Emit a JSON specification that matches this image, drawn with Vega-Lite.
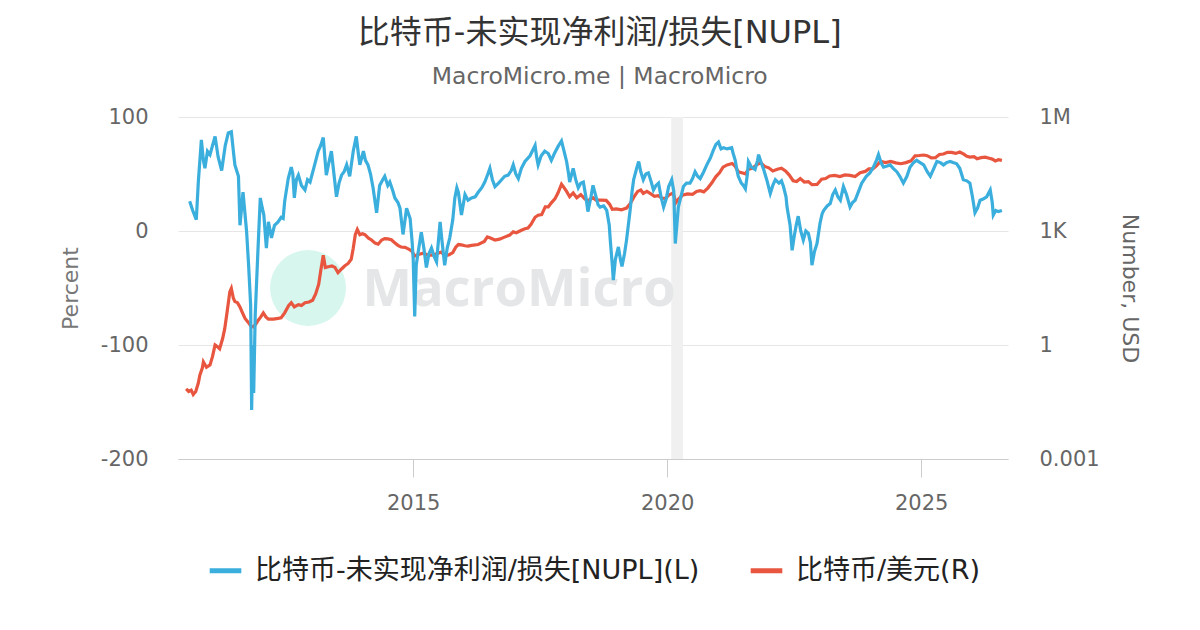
{
  "$schema": "https://vega.github.io/schema/vega-lite/v6.json",
  "width": 830,
  "height": 342,
  "autosize": {"type": "none"},
  "padding": {"left": 178, "top": 117, "right": 192, "bottom": 171},
  "background": "white",
  "title": {
    "text": "比特币-未实现净利润/损失[NUPL]",
    "subtitle": "MacroMicro.me | MacroMicro",
    "anchor": "middle",
    "frame": "bounds",
    "font": "DejaVu Sans, Noto Sans CJK SC",
    "fontSize": 32,
    "fontWeight": "normal",
    "color": "#333333",
    "subtitleFont": "DejaVu Sans",
    "subtitleFontSize": 23.5,
    "subtitleColor": "#666666",
    "subtitlePadding": 15,
    "offset": 17
  },
  "config": {
    "view": {"stroke": null},
    "axis": {"labelFont": "DejaVu Sans", "labelFontSize": 21, "labelColor": "#666666", "titleFont": "DejaVu Sans", "titleFontWeight": "normal"},
    "legend": {"layout": {"bottom": {"anchor": "middle"}}}
  },
  "datasets": {
    "nupl": [
      {"t": 2010.60, "v": 26}, {"t": 2010.66, "v": 18}, {"t": 2010.73, "v": 10}, {"t": 2010.77, "v": 43}, {"t": 2010.83, "v": 80},
      {"t": 2010.87, "v": 62}, {"t": 2010.90, "v": 55}, {"t": 2010.95, "v": 70}, {"t": 2011.00, "v": 67}, {"t": 2011.05, "v": 75},
      {"t": 2011.10, "v": 83}, {"t": 2011.16, "v": 65}, {"t": 2011.23, "v": 53}, {"t": 2011.30, "v": 75}, {"t": 2011.36, "v": 86},
      {"t": 2011.42, "v": 87}, {"t": 2011.46, "v": 70}, {"t": 2011.49, "v": 58}, {"t": 2011.56, "v": 48}, {"t": 2011.59, "v": 5},
      {"t": 2011.65, "v": 34}, {"t": 2011.72, "v": 0}, {"t": 2011.76, "v": -30}, {"t": 2011.80, "v": -65}, {"t": 2011.82, "v": -157},
      {"t": 2011.84, "v": -100}, {"t": 2011.86, "v": -142}, {"t": 2011.89, "v": -74}, {"t": 2011.94, "v": -21}, {"t": 2011.99, "v": 29},
      {"t": 2012.03, "v": 20}, {"t": 2012.06, "v": 14}, {"t": 2012.11, "v": -15}, {"t": 2012.15, "v": 8}, {"t": 2012.21, "v": -6},
      {"t": 2012.27, "v": 5}, {"t": 2012.34, "v": 8}, {"t": 2012.40, "v": 12}, {"t": 2012.44, "v": 11}, {"t": 2012.47, "v": 26},
      {"t": 2012.54, "v": 46}, {"t": 2012.60, "v": 56}, {"t": 2012.63, "v": 50}, {"t": 2012.66, "v": 29}, {"t": 2012.70, "v": 45},
      {"t": 2012.74, "v": 49}, {"t": 2012.80, "v": 40}, {"t": 2012.87, "v": 36}, {"t": 2012.92, "v": 45}, {"t": 2012.97, "v": 43},
      {"t": 2013.06, "v": 58}, {"t": 2013.13, "v": 70}, {"t": 2013.18, "v": 75}, {"t": 2013.23, "v": 82}, {"t": 2013.26, "v": 65},
      {"t": 2013.29, "v": 49}, {"t": 2013.34, "v": 60}, {"t": 2013.39, "v": 70}, {"t": 2013.44, "v": 50}, {"t": 2013.49, "v": 30},
      {"t": 2013.54, "v": 42}, {"t": 2013.59, "v": 49}, {"t": 2013.64, "v": 52}, {"t": 2013.69, "v": 58}, {"t": 2013.75, "v": 48},
      {"t": 2013.82, "v": 70}, {"t": 2013.88, "v": 83}, {"t": 2013.92, "v": 68}, {"t": 2013.95, "v": 58}, {"t": 2014.02, "v": 70},
      {"t": 2014.06, "v": 62}, {"t": 2014.11, "v": 58}, {"t": 2014.16, "v": 50}, {"t": 2014.21, "v": 38}, {"t": 2014.28, "v": 16},
      {"t": 2014.34, "v": 40}, {"t": 2014.40, "v": 45}, {"t": 2014.44, "v": 48}, {"t": 2014.50, "v": 40}, {"t": 2014.54, "v": 43},
      {"t": 2014.60, "v": 35}, {"t": 2014.64, "v": 29}, {"t": 2014.70, "v": 25}, {"t": 2014.74, "v": 20}, {"t": 2014.80, "v": -3},
      {"t": 2014.84, "v": 10}, {"t": 2014.87, "v": 20}, {"t": 2014.94, "v": 11}, {"t": 2014.98, "v": -10}, {"t": 2015.00, "v": -24},
      {"t": 2015.03, "v": -75}, {"t": 2015.06, "v": -30}, {"t": 2015.10, "v": -18}, {"t": 2015.16, "v": -1}, {"t": 2015.21, "v": -15},
      {"t": 2015.26, "v": -32}, {"t": 2015.31, "v": -20}, {"t": 2015.36, "v": -15}, {"t": 2015.41, "v": -22}, {"t": 2015.46, "v": -27},
      {"t": 2015.53, "v": 8}, {"t": 2015.57, "v": -10}, {"t": 2015.62, "v": -30}, {"t": 2015.67, "v": -15}, {"t": 2015.72, "v": -6},
      {"t": 2015.78, "v": 10}, {"t": 2015.82, "v": 29}, {"t": 2015.86, "v": 38}, {"t": 2015.89, "v": 34}, {"t": 2015.95, "v": 14},
      {"t": 2016.02, "v": 32}, {"t": 2016.08, "v": 27}, {"t": 2016.15, "v": 29}, {"t": 2016.22, "v": 30}, {"t": 2016.28, "v": 34},
      {"t": 2016.35, "v": 38}, {"t": 2016.41, "v": 43}, {"t": 2016.47, "v": 50}, {"t": 2016.51, "v": 55}, {"t": 2016.56, "v": 45},
      {"t": 2016.61, "v": 39}, {"t": 2016.68, "v": 42}, {"t": 2016.74, "v": 45}, {"t": 2016.80, "v": 48}, {"t": 2016.87, "v": 49},
      {"t": 2016.93, "v": 53}, {"t": 2016.97, "v": 58}, {"t": 2017.02, "v": 50}, {"t": 2017.07, "v": 46}, {"t": 2017.13, "v": 55},
      {"t": 2017.20, "v": 61}, {"t": 2017.30, "v": 66}, {"t": 2017.40, "v": 75}, {"t": 2017.43, "v": 65}, {"t": 2017.46, "v": 58},
      {"t": 2017.52, "v": 66}, {"t": 2017.59, "v": 70}, {"t": 2017.66, "v": 68}, {"t": 2017.72, "v": 62}, {"t": 2017.78, "v": 68},
      {"t": 2017.85, "v": 74}, {"t": 2017.92, "v": 79}, {"t": 2017.97, "v": 70}, {"t": 2018.02, "v": 61}, {"t": 2018.06, "v": 50},
      {"t": 2018.08, "v": 43}, {"t": 2018.15, "v": 55}, {"t": 2018.20, "v": 45}, {"t": 2018.25, "v": 38}, {"t": 2018.30, "v": 42},
      {"t": 2018.35, "v": 43}, {"t": 2018.40, "v": 30}, {"t": 2018.44, "v": 17}, {"t": 2018.50, "v": 30}, {"t": 2018.54, "v": 40},
      {"t": 2018.60, "v": 30}, {"t": 2018.64, "v": 23}, {"t": 2018.68, "v": 21}, {"t": 2018.75, "v": 22}, {"t": 2018.81, "v": 18},
      {"t": 2018.86, "v": 5}, {"t": 2018.88, "v": -8}, {"t": 2018.92, "v": -30}, {"t": 2018.94, "v": -43}, {"t": 2018.98, "v": -25},
      {"t": 2019.04, "v": -14}, {"t": 2019.08, "v": -25}, {"t": 2019.11, "v": -31}, {"t": 2019.16, "v": -20}, {"t": 2019.20, "v": -8},
      {"t": 2019.27, "v": 18}, {"t": 2019.31, "v": 35}, {"t": 2019.34, "v": 45}, {"t": 2019.40, "v": 55}, {"t": 2019.44, "v": 61},
      {"t": 2019.48, "v": 52}, {"t": 2019.53, "v": 45}, {"t": 2019.58, "v": 50}, {"t": 2019.63, "v": 51}, {"t": 2019.68, "v": 44},
      {"t": 2019.73, "v": 36}, {"t": 2019.78, "v": 40}, {"t": 2019.83, "v": 42}, {"t": 2019.88, "v": 30}, {"t": 2019.93, "v": 21},
      {"t": 2019.98, "v": 28}, {"t": 2020.03, "v": 39}, {"t": 2020.09, "v": 45}, {"t": 2020.13, "v": 35}, {"t": 2020.16, "v": -11},
      {"t": 2020.19, "v": 5}, {"t": 2020.22, "v": 21}, {"t": 2020.27, "v": 30}, {"t": 2020.32, "v": 39}, {"t": 2020.38, "v": 42},
      {"t": 2020.45, "v": 42}, {"t": 2020.50, "v": 46}, {"t": 2020.55, "v": 52}, {"t": 2020.60, "v": 48}, {"t": 2020.65, "v": 46},
      {"t": 2020.72, "v": 52}, {"t": 2020.78, "v": 58}, {"t": 2020.85, "v": 64}, {"t": 2020.91, "v": 71}, {"t": 2020.96, "v": 76},
      {"t": 2021.01, "v": 78}, {"t": 2021.06, "v": 72}, {"t": 2021.11, "v": 73}, {"t": 2021.18, "v": 72}, {"t": 2021.27, "v": 73},
      {"t": 2021.30, "v": 68}, {"t": 2021.34, "v": 62}, {"t": 2021.38, "v": 52}, {"t": 2021.40, "v": 48}, {"t": 2021.46, "v": 42},
      {"t": 2021.50, "v": 40}, {"t": 2021.54, "v": 37}, {"t": 2021.58, "v": 50}, {"t": 2021.60, "v": 61}, {"t": 2021.66, "v": 56},
      {"t": 2021.73, "v": 54}, {"t": 2021.78, "v": 62}, {"t": 2021.80, "v": 67}, {"t": 2021.85, "v": 60}, {"t": 2021.90, "v": 54},
      {"t": 2021.96, "v": 45}, {"t": 2022.03, "v": 33}, {"t": 2022.08, "v": 40}, {"t": 2022.13, "v": 45}, {"t": 2022.20, "v": 42},
      {"t": 2022.25, "v": 44}, {"t": 2022.29, "v": 39}, {"t": 2022.34, "v": 30}, {"t": 2022.36, "v": 21}, {"t": 2022.42, "v": 5},
      {"t": 2022.46, "v": -17}, {"t": 2022.50, "v": -5}, {"t": 2022.54, "v": 5}, {"t": 2022.58, "v": 13}, {"t": 2022.63, "v": 0},
      {"t": 2022.68, "v": -8}, {"t": 2022.73, "v": 0}, {"t": 2022.78, "v": -2}, {"t": 2022.82, "v": -10}, {"t": 2022.85, "v": -30},
      {"t": 2022.90, "v": -18}, {"t": 2022.95, "v": -11}, {"t": 2023.01, "v": 7}, {"t": 2023.05, "v": 15}, {"t": 2023.08, "v": 18},
      {"t": 2023.15, "v": 22}, {"t": 2023.21, "v": 24}, {"t": 2023.26, "v": 32}, {"t": 2023.31, "v": 36}, {"t": 2023.36, "v": 30},
      {"t": 2023.41, "v": 27}, {"t": 2023.47, "v": 39}, {"t": 2023.53, "v": 32}, {"t": 2023.60, "v": 21}, {"t": 2023.65, "v": 25},
      {"t": 2023.70, "v": 27}, {"t": 2023.77, "v": 35}, {"t": 2023.83, "v": 42}, {"t": 2023.92, "v": 48}, {"t": 2023.99, "v": 51},
      {"t": 2024.06, "v": 56}, {"t": 2024.12, "v": 62}, {"t": 2024.16, "v": 67}, {"t": 2024.21, "v": 60}, {"t": 2024.26, "v": 56},
      {"t": 2024.33, "v": 57}, {"t": 2024.39, "v": 58}, {"t": 2024.45, "v": 55}, {"t": 2024.52, "v": 52}, {"t": 2024.58, "v": 48},
      {"t": 2024.65, "v": 42}, {"t": 2024.72, "v": 48}, {"t": 2024.78, "v": 56}, {"t": 2024.85, "v": 60}, {"t": 2024.91, "v": 62},
      {"t": 2024.98, "v": 60}, {"t": 2025.05, "v": 58}, {"t": 2025.12, "v": 52}, {"t": 2025.18, "v": 48}, {"t": 2025.25, "v": 55},
      {"t": 2025.31, "v": 61}, {"t": 2025.38, "v": 60}, {"t": 2025.44, "v": 58}, {"t": 2025.50, "v": 60}, {"t": 2025.57, "v": 61},
      {"t": 2025.63, "v": 60}, {"t": 2025.70, "v": 59}, {"t": 2025.76, "v": 55}, {"t": 2025.83, "v": 45}, {"t": 2025.90, "v": 44},
      {"t": 2025.96, "v": 42}, {"t": 2026.01, "v": 30}, {"t": 2026.06, "v": 16}, {"t": 2026.11, "v": 20}, {"t": 2026.16, "v": 27},
      {"t": 2026.22, "v": 28}, {"t": 2026.29, "v": 30}, {"t": 2026.36, "v": 36}, {"t": 2026.40, "v": 25}, {"t": 2026.42, "v": 14},
      {"t": 2026.47, "v": 18}, {"t": 2026.52, "v": 17}, {"t": 2026.59, "v": 18}
    ],
    "btc": [
      {"t": 2010.53, "v": 0.07}, {"t": 2010.58, "v": 0.06}, {"t": 2010.63, "v": 0.065}, {"t": 2010.67, "v": 0.05}, {"t": 2010.72, "v": 0.06},
      {"t": 2010.77, "v": 0.1}, {"t": 2010.80, "v": 0.16}, {"t": 2010.85, "v": 0.25}, {"t": 2010.87, "v": 0.36}, {"t": 2010.93, "v": 0.26},
      {"t": 2011.00, "v": 0.3}, {"t": 2011.05, "v": 0.5}, {"t": 2011.10, "v": 1.0}, {"t": 2011.15, "v": 0.9}, {"t": 2011.19, "v": 0.8},
      {"t": 2011.25, "v": 1.5}, {"t": 2011.29, "v": 2.7}, {"t": 2011.34, "v": 8}, {"t": 2011.39, "v": 25}, {"t": 2011.42, "v": 31},
      {"t": 2011.46, "v": 17}, {"t": 2011.49, "v": 14}, {"t": 2011.54, "v": 13}, {"t": 2011.59, "v": 10}, {"t": 2011.64, "v": 7},
      {"t": 2011.69, "v": 5}, {"t": 2011.75, "v": 4}, {"t": 2011.80, "v": 3.2}, {"t": 2011.85, "v": 3.0}, {"t": 2011.90, "v": 3.5},
      {"t": 2011.95, "v": 4.5}, {"t": 2012.00, "v": 5.5}, {"t": 2012.05, "v": 7}, {"t": 2012.10, "v": 5.5}, {"t": 2012.15, "v": 4.8},
      {"t": 2012.25, "v": 4.8}, {"t": 2012.34, "v": 5.0}, {"t": 2012.40, "v": 5.2}, {"t": 2012.47, "v": 7}, {"t": 2012.55, "v": 11},
      {"t": 2012.60, "v": 13}, {"t": 2012.66, "v": 10}, {"t": 2012.74, "v": 11.5}, {"t": 2012.80, "v": 11}, {"t": 2012.87, "v": 13},
      {"t": 2012.95, "v": 13.5}, {"t": 2013.02, "v": 15}, {"t": 2013.08, "v": 22}, {"t": 2013.14, "v": 40}, {"t": 2013.18, "v": 90},
      {"t": 2013.23, "v": 230}, {"t": 2013.27, "v": 110}, {"t": 2013.33, "v": 115}, {"t": 2013.40, "v": 120}, {"t": 2013.46, "v": 110},
      {"t": 2013.52, "v": 80}, {"t": 2013.59, "v": 100}, {"t": 2013.65, "v": 120}, {"t": 2013.72, "v": 140}, {"t": 2013.78, "v": 180},
      {"t": 2013.82, "v": 350}, {"t": 2013.86, "v": 800}, {"t": 2013.90, "v": 1100}, {"t": 2013.95, "v": 800}, {"t": 2014.00, "v": 850},
      {"t": 2014.05, "v": 800}, {"t": 2014.12, "v": 650}, {"t": 2014.18, "v": 580}, {"t": 2014.25, "v": 480}, {"t": 2014.31, "v": 450},
      {"t": 2014.38, "v": 580}, {"t": 2014.44, "v": 630}, {"t": 2014.50, "v": 620}, {"t": 2014.57, "v": 590}, {"t": 2014.63, "v": 500},
      {"t": 2014.70, "v": 420}, {"t": 2014.76, "v": 380}, {"t": 2014.84, "v": 370}, {"t": 2014.92, "v": 330}, {"t": 2014.97, "v": 300},
      {"t": 2015.03, "v": 220}, {"t": 2015.10, "v": 240}, {"t": 2015.20, "v": 260}, {"t": 2015.30, "v": 230}, {"t": 2015.40, "v": 235},
      {"t": 2015.49, "v": 260}, {"t": 2015.55, "v": 280}, {"t": 2015.62, "v": 230}, {"t": 2015.70, "v": 235}, {"t": 2015.78, "v": 270},
      {"t": 2015.84, "v": 380}, {"t": 2015.89, "v": 440}, {"t": 2015.95, "v": 430}, {"t": 2016.02, "v": 410}, {"t": 2016.08, "v": 400},
      {"t": 2016.15, "v": 420}, {"t": 2016.28, "v": 440}, {"t": 2016.40, "v": 530}, {"t": 2016.46, "v": 700}, {"t": 2016.52, "v": 650},
      {"t": 2016.61, "v": 580}, {"t": 2016.70, "v": 610}, {"t": 2016.81, "v": 700}, {"t": 2016.90, "v": 780}, {"t": 2016.97, "v": 950},
      {"t": 2017.03, "v": 900}, {"t": 2017.13, "v": 1050}, {"t": 2017.20, "v": 1150}, {"t": 2017.26, "v": 1200}, {"t": 2017.32, "v": 1500},
      {"t": 2017.40, "v": 2300}, {"t": 2017.46, "v": 2600}, {"t": 2017.53, "v": 2700}, {"t": 2017.60, "v": 4300}, {"t": 2017.66, "v": 4300},
      {"t": 2017.72, "v": 5500}, {"t": 2017.79, "v": 7000}, {"t": 2017.85, "v": 10000}, {"t": 2017.92, "v": 17000}, {"t": 2017.96, "v": 14500},
      {"t": 2018.02, "v": 11000}, {"t": 2018.08, "v": 8000}, {"t": 2018.15, "v": 10000}, {"t": 2018.22, "v": 7500}, {"t": 2018.30, "v": 9000},
      {"t": 2018.38, "v": 7000}, {"t": 2018.44, "v": 6300}, {"t": 2018.54, "v": 7500}, {"t": 2018.60, "v": 6500}, {"t": 2018.70, "v": 6500},
      {"t": 2018.80, "v": 6400}, {"t": 2018.87, "v": 5000}, {"t": 2018.92, "v": 3700}, {"t": 2019.00, "v": 3800}, {"t": 2019.10, "v": 3600},
      {"t": 2019.20, "v": 4000}, {"t": 2019.27, "v": 5200}, {"t": 2019.35, "v": 8000}, {"t": 2019.42, "v": 11000}, {"t": 2019.48, "v": 12000},
      {"t": 2019.53, "v": 9800}, {"t": 2019.60, "v": 11000}, {"t": 2019.68, "v": 9500}, {"t": 2019.75, "v": 8200}, {"t": 2019.82, "v": 8500},
      {"t": 2019.90, "v": 7300}, {"t": 2019.97, "v": 7200}, {"t": 2020.04, "v": 9000}, {"t": 2020.12, "v": 10000}, {"t": 2020.17, "v": 5500},
      {"t": 2020.22, "v": 6800}, {"t": 2020.30, "v": 8700}, {"t": 2020.40, "v": 9500}, {"t": 2020.50, "v": 9200}, {"t": 2020.58, "v": 11000},
      {"t": 2020.65, "v": 11500}, {"t": 2020.72, "v": 10700}, {"t": 2020.80, "v": 13500}, {"t": 2020.88, "v": 18500}, {"t": 2020.96, "v": 27000},
      {"t": 2021.03, "v": 34000}, {"t": 2021.10, "v": 48000}, {"t": 2021.18, "v": 55000}, {"t": 2021.28, "v": 60000}, {"t": 2021.34, "v": 50000},
      {"t": 2021.40, "v": 36000}, {"t": 2021.47, "v": 34000}, {"t": 2021.54, "v": 32000}, {"t": 2021.60, "v": 42000}, {"t": 2021.68, "v": 45000},
      {"t": 2021.76, "v": 55000}, {"t": 2021.84, "v": 63000}, {"t": 2021.92, "v": 50000}, {"t": 2022.00, "v": 46000}, {"t": 2022.08, "v": 38000},
      {"t": 2022.17, "v": 42000}, {"t": 2022.25, "v": 45000}, {"t": 2022.33, "v": 38000}, {"t": 2022.40, "v": 30000}, {"t": 2022.48, "v": 21000},
      {"t": 2022.55, "v": 20000}, {"t": 2022.62, "v": 24000}, {"t": 2022.70, "v": 19500}, {"t": 2022.78, "v": 20000}, {"t": 2022.85, "v": 16500},
      {"t": 2022.95, "v": 16800}, {"t": 2023.04, "v": 23000}, {"t": 2023.12, "v": 24000}, {"t": 2023.20, "v": 28000}, {"t": 2023.30, "v": 29000},
      {"t": 2023.40, "v": 27000}, {"t": 2023.50, "v": 30000}, {"t": 2023.60, "v": 29000}, {"t": 2023.70, "v": 27000}, {"t": 2023.80, "v": 34000},
      {"t": 2023.90, "v": 37000}, {"t": 2023.97, "v": 43000}, {"t": 2024.05, "v": 43000}, {"t": 2024.12, "v": 52000}, {"t": 2024.20, "v": 68000},
      {"t": 2024.30, "v": 63000}, {"t": 2024.40, "v": 68000}, {"t": 2024.50, "v": 62000}, {"t": 2024.60, "v": 59000}, {"t": 2024.70, "v": 63000},
      {"t": 2024.80, "v": 70000}, {"t": 2024.88, "v": 95000}, {"t": 2024.96, "v": 97000}, {"t": 2025.05, "v": 100000}, {"t": 2025.12, "v": 96000},
      {"t": 2025.20, "v": 84000}, {"t": 2025.28, "v": 85000}, {"t": 2025.36, "v": 103000}, {"t": 2025.44, "v": 106000}, {"t": 2025.52, "v": 118000},
      {"t": 2025.60, "v": 117000}, {"t": 2025.68, "v": 110000}, {"t": 2025.76, "v": 120000}, {"t": 2025.84, "v": 105000}, {"t": 2025.90, "v": 92000},
      {"t": 2025.96, "v": 88000}, {"t": 2026.04, "v": 90000}, {"t": 2026.10, "v": 80000}, {"t": 2026.18, "v": 85000}, {"t": 2026.26, "v": 88000},
      {"t": 2026.34, "v": 82000}, {"t": 2026.40, "v": 78000}, {"t": 2026.46, "v": 70000}, {"t": 2026.52, "v": 75000}, {"t": 2026.59, "v": 72000}
    ]
  },
  "encoding": {
    "x": {
      "field": "t",
      "type": "quantitative",
      "title": null,
      "scale": {"domain": [2010.37, 2026.71], "nice": false, "zero": false},
      "axis": {
        "values": [2015, 2020, 2025],
        "format": "d",
        "grid": false,
        "domain": true,
        "domainColor": "#cccccc",
        "ticks": true,
        "tickColor": "#cccccc",
        "tickSize": 18,
        "labelPadding": 15
      }
    }
  },
  "layer": [
    {
      "data": {"values": [{"t": 2020.08, "t2": 2020.31}]},
      "mark": {"type": "rect", "color": "#f0f0f0"},
      "encoding": {"x2": {"field": "t2"}}
    },
    {
      "layer": [
        {
          "data": {"values": [{"t": 2012.93, "v": 31.6}]},
          "mark": {"type": "point", "filled": true, "size": 5776, "color": "#d6f6ee", "opacity": 1},
          "encoding": {"y": {"field": "v", "type": "quantitative"}}
        },
        {
          "data": {"values": [{"t": 2014.0, "v": 28, "label": "MacroMicro"}]},
          "mark": {"type": "text", "align": "left", "baseline": "middle", "font": "Open Sans", "fontWeight": "bold", "fontSize": 52.5, "color": "#e5e6e8"},
          "encoding": {"y": {"field": "v", "type": "quantitative"}, "text": {"field": "label"}}
        },
        {
          "data": {"name": "btc"},
          "mark": {"type": "line", "strokeWidth": 3.2},
          "encoding": {
            "y": {
              "field": "v",
              "type": "quantitative",
              "title": "Number, USD",
              "scale": {"type": "log", "domain": [0.001, 1000000]},
              "axis": {
                "orient": "right",
                "values": [0.001, 1, 1000, 1000000],
                "labelExpr": "datum.value >= 1000000 ? '1M' : datum.value >= 1000 ? '1K' : datum.value >= 1 ? '1' : '0.001'",
                "grid": false,
                "domain": false,
                "ticks": false,
                "labelPadding": 31,
                "titleFontSize": 22,
                "titleColor": "#666666",
                "titleAngle": 90,
                "titlePadding": 18
              }
            },
            "color": {"datum": "比特币/美元(R)"}
          }
        }
      ]
    },
    {
      "data": {"name": "nupl"},
      "mark": {"type": "line", "strokeWidth": 3.2},
      "encoding": {
        "y": {
          "field": "v",
          "type": "quantitative",
          "title": "Percent",
          "scale": {"domain": [-200, 100]},
          "axis": {
            "orient": "left",
            "values": [-200, -100, 0, 100],
            "labelExpr": "'' + datum.value",
            "grid": true,
            "gridColor": "#e6e6e6",
            "domain": false,
            "ticks": false,
            "labelPadding": 30,
            "titleFontSize": 22,
            "titleColor": "#777777",
            "titlePadding": 18
          }
        },
        "color": {
          "datum": "比特币-未实现净利润/损失[NUPL](L)",
          "scale": {"domain": ["比特币-未实现净利润/损失[NUPL](L)", "比特币/美元(R)"], "range": ["#3aaedc", "#e8563f"]},
          "legend": {
            "title": null,
            "orient": "bottom",
            "direction": "horizontal",
            "symbolType": "stroke",
            "symbolStrokeWidth": 5,
            "symbolSize": 1000,
            "labelFont": "DejaVu Sans, Noto Sans CJK SC",
            "labelFontSize": 27,
            "labelColor": "#222222",
            "labelLimit": 700,
            "labelOffset": 11,
            "columnPadding": 40,
            "offset": 39
          }
        }
      }
    }
  ],
  "resolve": {"scale": {"y": "independent"}}
}
